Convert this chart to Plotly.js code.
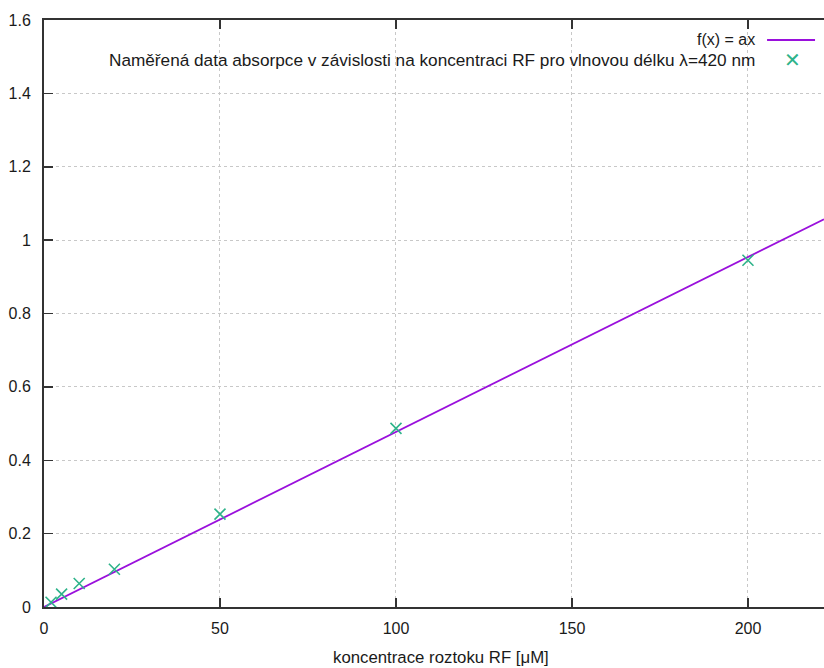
<!DOCTYPE html>
<html>
<head>
<meta charset="utf-8">
<script src="https://cdn.plot.ly/plotly-3.0.1.min.js"></script>
<style>html,body{margin:0;padding:0;background:#fff;}#chart{width:824px;height:668px;}</style>
</head>
<body>
<div id="chart"></div>
<script>
const concentrations = [2, 5, 10, 20, 50, 100, 200];
const absorbance = [0.013, 0.035, 0.064, 0.103, 0.253, 0.487, 0.945];
const slopeA = 0.00477;
const xRange = [0, 221.6];
const fitX = [0, 221.6];
const fitY = fitX.map(x => slopeA * x);
const xTicks = [0, 50, 100, 150, 200];
const yTicks = [0, 0.2, 0.4, 0.6, 0.8, 1, 1.2, 1.4, 1.6];
const yTickText = ['0', '0.2', '0.4', '0.6', '0.8', '1', '1.2', '1.4', '1.6'];
const legendFit = 'f(x) = ax';
const legendData = 'Naměřená data absorpce v závislosti na koncentraci RF pro vlnovou délku λ=420 nm';
const xTitle = 'koncentrace roztoku RF [μM]';

const FONT = {family: 'Liberation Sans, Arial, sans-serif', size: 16, color: '#1a1a1a'};
const FONT_WIDE = {family: 'Liberation Sans, Arial, sans-serif', size: 17.2, color: '#1a1a1a'};
const FONT_TITLE = {family: 'Liberation Sans, Arial, sans-serif', size: 16.8, color: '#1a1a1a'};
const lineColor = '#9a10dc';
const ptColor = '#2eb38a';

const traces = [
  {x: fitX, y: fitY, mode: 'lines', line: {color: lineColor, width: 1.8}, hoverinfo: 'skip', showlegend: false},
  {x: concentrations, y: absorbance, mode: 'markers',
   marker: {symbol: 'x-thin-open', size: 11, color: ptColor, line: {color: ptColor, width: 1.6}},
   showlegend: false}
];

const layout = {
  width: 824, height: 668,
  margin: {l: 44, r: 0, t: 20, b: 61},
  paper_bgcolor: '#fff', plot_bgcolor: '#fff',
  font: FONT,
  showlegend: false,
  xaxis: {
    range: xRange, tickvals: xTicks, ticktext: xTicks.map(String),
    showline: true, linecolor: '#333', linewidth: 2, mirror: 'ticks',
    ticks: 'inside', ticklen: 9, tickwidth: 1.5, tickcolor: '#333',
    showgrid: true, gridcolor: '#c8c8c8', griddash: 'dot', gridwidth: 1,
    zeroline: false, ticklabelstandoff: 6
  },
  yaxis: {
    range: [0, 1.6], tickvals: yTicks, ticktext: yTickText,
    showline: true, linecolor: '#333', linewidth: 2,
    ticks: 'inside', ticklen: 9, tickwidth: 1.5, tickcolor: '#333',
    showgrid: true, gridcolor: '#c8c8c8', griddash: 'dot', gridwidth: 1,
    zeroline: false, ticklabelstandoff: 8
  },
  annotations: [
    {xref: 'paper', yref: 'paper', x: 0.914, y: 0.966, xanchor: 'right', yanchor: 'middle',
     text: legendFit, showarrow: false, font: FONT},
    {xref: 'paper', yref: 'paper', x: 0.914, y: 0.932, xanchor: 'right', yanchor: 'middle',
     text: legendData, showarrow: false, font: FONT_WIDE},
    {xref: 'paper', yref: 'paper', x: 0.959, y: 0.932, xanchor: 'center', yanchor: 'middle',
     text: '✕', showarrow: false, font: {family: 'DejaVu Sans', size: 20, color: ptColor}},
    {xref: 'paper', yref: 'paper', x: 0.509, y: -0.086, xanchor: 'center', yanchor: 'middle',
     text: xTitle, showarrow: false, font: FONT_TITLE}
  ],
  shapes: [
    {type: 'line', xref: 'paper', yref: 'paper', x0: 0.927, x1: 0.9885, y0: 0.966, y1: 0.966,
     line: {color: lineColor, width: 2}}
  ]
};

Plotly.newPlot('chart', traces, layout, {staticPlot: true, displayModeBar: false});
</script>
</body>
</html>
